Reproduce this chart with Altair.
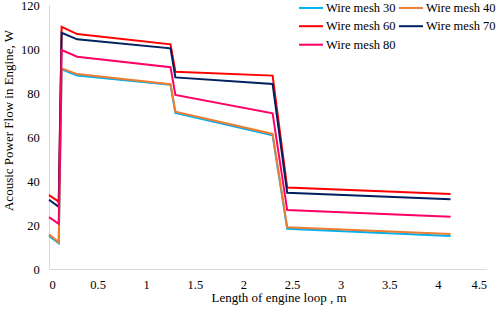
import altair as alt
import pandas as pd

x_vals = [0, 0.1, 0.13, 0.29, 1.25, 1.30, 2.30, 2.45, 4.13]
series_names = ["Wire mesh 30", "Wire mesh 40", "Wire mesh 60", "Wire mesh 70", "Wire mesh 80"]
mesh30 = [15.0, 11.7, 90.8, 87.9, 83.7, 71.0, 60.8, 18.3, 15.0]
mesh40 = [15.8, 12.1, 91.2, 88.6, 84.0, 71.5, 61.4, 19.0, 15.9]
mesh60 = [33.6, 30.6, 110.1, 106.8, 102.1, 89.7, 87.9, 37.0, 34.1]
mesh70 = [31.5, 28.3, 107.4, 104.4, 100.3, 87.1, 84.1, 34.7, 31.7]
mesh80 = [23.6, 20.5, 99.5, 96.5, 91.7, 79.1, 70.8, 26.8, 23.8]
colors = ["#00B0F0", "#ED7D31", "#FF0000", "#002060", "#FF0066"]

rows = []
for name, vals in zip(series_names, [mesh30, mesh40, mesh60, mesh70, mesh80]):
    for i, (xv, yv) in enumerate(zip(x_vals, vals)):
        rows.append({"series": name, "x": xv, "y": yv, "idx": i})
df = pd.DataFrame(rows)

FONT = "'Liberation Serif', 'Times New Roman', serif"

chart = alt.Chart(df).mark_line(strokeWidth=2).encode(
    x=alt.X("x:Q",
            scale=alt.Scale(domain=[0, 4.5], nice=False, zero=False),
            axis=alt.Axis(values=[0, 0.5, 1, 1.5, 2, 2.5, 3, 3.5, 4, 4.5], format=".1~f",
                          title="Length of engine loop , m", grid=False, ticks=False,
                          labelPadding=9, domainColor="#D9D9D9", domainWidth=1,
                          labelFont=FONT, titleFont=FONT, labelFontSize=12.5, titleFontSize=13,
                          titleX=229.5, titleY=28.5, titleBaseline="middle", titleAlign="center")),
    y=alt.Y("y:Q",
            scale=alt.Scale(domain=[0, 120], nice=False),
            axis=alt.Axis(values=[0, 20, 40, 60, 80, 100, 120], title="Acousic Power Flow in Engine, W",
                          grid=False, ticks=False, labelPadding=9.7, domainColor="#D9D9D9", domainWidth=1,
                          labelFont=FONT, titleFont=FONT, labelFontSize=12.5, titleFontSize=13,
                          titleX=-41, titleY=115, titleAngle=-90, titleBaseline="middle", titleAlign="center")),
    color=alt.Color("series:N",
                    scale=alt.Scale(domain=series_names, range=colors),
                    legend=alt.Legend(title=None, orient="none", legendX=251, legendY=-8.3,
                                      direction="horizontal", columns=2, columnPadding=-1, rowPadding=0.5,
                                      symbolType="M-1.2,0L1.2,0", symbolSize=400, symbolStrokeWidth=2,
                                      labelFont=FONT, labelFontSize=12.5, labelLimit=200,
                                      labelOffset=4, padding=0)),
    order="idx:Q",
).properties(
    width=437.5, height=264,
    padding={"left": 49, "top": 5, "right": 11.5, "bottom": 45},
    autosize=alt.AutoSizeParams(type="none"),
).configure(font=FONT).configure_view(stroke=None).configure_axis(
    labelColor="#000000", titleColor="#000000", titleFontWeight="normal",
).configure_legend(
    labelColor="#000000",
)

chart.save("out.html", embed_options={"renderer": "svg", "actions": False})
